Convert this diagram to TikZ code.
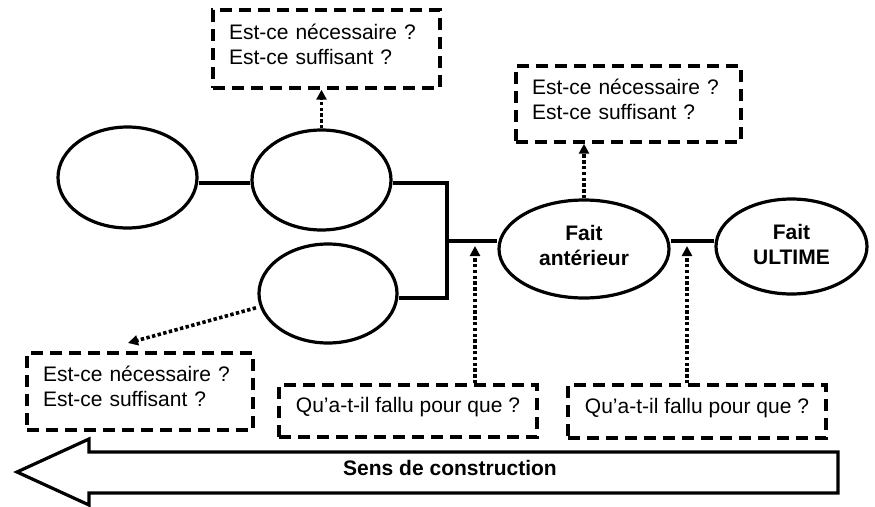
\documentclass[tikz,border=0pt]{standalone}
\usepackage{fontspec}
\setmainfont{Liberation Sans}
\usetikzlibrary{shapes.geometric,arrows.meta}
\newcommand{\padbelow}[1]{\rule[-#1]{0pt}{#1}}
\begin{document}
\begin{tikzpicture}[x=1pt,y=-1pt,
  every node/.style={font=\fontsize{21}{25}\selectfont},
  boldtext/.style={font=\fontsize{21}{25}\selectfont\bfseries},
  oval/.style={draw,line width=3.2pt,ellipse,inner sep=0pt},
  qbox/.style={draw,line width=3.4pt,dash pattern=on 12pt off 7pt,rectangle,inner sep=0pt},
  link/.style={line width=3.2pt,line join=miter},
  dotarrow/.style={line width=3.6pt,dash pattern=on 3.4pt off 2.4pt,-{Triangle[length=10pt,width=10pt]}},
]
\useasboundingbox (0,0) rectangle (875,506);

% ovals
\node[oval,minimum width=139pt,minimum height=101pt] (e1) at (127.5,177.5) {};
\node[oval,minimum width=139pt,minimum height=100pt] (e2) at (321.5,180) {};
\node[oval,minimum width=138pt,minimum height=99pt] (e3) at (328,293.5) {};
\node[oval,boldtext,align=center,minimum width=170pt,minimum height=98pt] (fa) at (584,249) {Fait\\antérieur\padbelow{8pt}};
\node[oval,boldtext,align=center,minimum width=151pt,minimum height=95pt] (fu) at (791.5,246.5) {Fait\\ULTIME\padbelow{4pt}};

% question boxes
\node[qbox,align=left,minimum width=227pt,minimum height=78pt,text width=195pt] (tl) at (326.5,49) {Est-ce nécessaire ?\\Est-ce suffisant ?\padbelow{10pt}};
\node[qbox,align=left,minimum width=225pt,minimum height=76pt,text width=193pt] (tr) at (628.5,104) {Est-ce nécessaire ?\\Est-ce suffisant ?\padbelow{10pt}};
\node[qbox,align=left,minimum width=226pt,minimum height=77pt,text width=194pt] (bl) at (140,391.5) {Est-ce nécessaire ?\\Est-ce suffisant ?\padbelow{10pt}};
\node[qbox,minimum width=258pt,minimum height=52pt] (lm) at (408,411) {Qu’a-t-il fallu pour que ?\padbelow{12pt}};
\node[qbox,minimum width=258pt,minimum height=53pt] (lr) at (697,411.5) {Qu’a-t-il fallu pour que ?\padbelow{12pt}};

% junction coordinates
\coordinate (jt) at (447,183);
\coordinate (jb) at (447,298);
\coordinate (jm) at (447,241);
\coordinate (tipL) at (475,246);
\coordinate (tipR) at (687,246);
\coordinate (tipBL) at (128,343);

% solid links
\draw[link] (e1.east |- jt) -- (e2.west |- jt);
\draw[link] (e2.east |- jt) -- (jt) -- (jb) -- (e3.east |- jb);
\draw[link] (jm) -- (fa.west |- jm);
\draw[link] (fa.east |- jm) -- (fu.west |- jm);

% dotted arrows
\draw[dotarrow] (e2.north) -- (e2.north |- tl.south);
\draw[dotarrow] (fa.north) -- (fa.north |- tr.south);
\draw[dotarrow,shorten <=4pt] (e3.191) -- (tipBL);
\draw[dotarrow] (lm.north -| tipL) -- (tipL);
\draw[dotarrow] (lr.north -| tipR) -- (tipR);

% big arrow
\draw[line width=3.2pt,line join=miter] (17,472) -- (89,439) -- (89,452) -- (838,452) -- (838,493) -- (89,493) -- (89,505) -- cycle;
\node[boldtext,anchor=base] (sens) at (450,475) {Sens de construction};
\end{tikzpicture}
\end{document}
